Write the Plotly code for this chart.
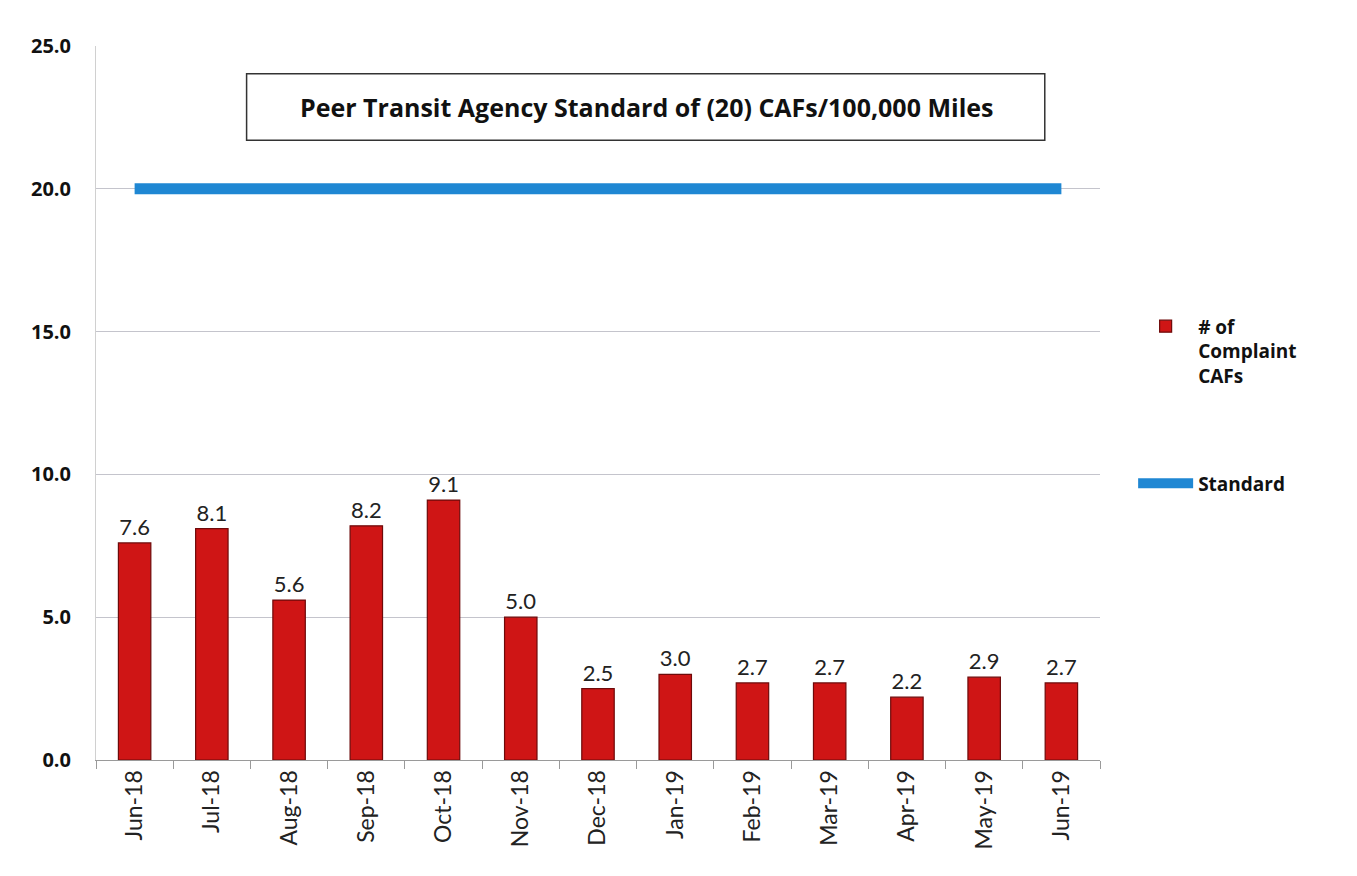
import plotly.graph_objects as go

months = ["Jun-18", "Jul-18", "Aug-18", "Sep-18", "Oct-18", "Nov-18", "Dec-18",
          "Jan-19", "Feb-19", "Mar-19", "Apr-19", "May-19", "Jun-19"]
complaints = [7.6, 8.1, 5.6, 8.2, 9.1, 5.0, 2.5, 3.0, 2.7, 2.7, 2.2, 2.9, 2.7]
standard = [20, 20, 20, 20, 20, 20, 20, 20, 20, 20, 20, 20, 20]
y_ticks = [0, 5, 10, 15, 20, 25]
title_text = "Peer Transit Agency Standard of (20) CAFs/100,000 Miles"

fig = go.Figure()
fig.add_trace(go.Bar(
    x=months, y=complaints, name="# of<br>Complaint<br>CAFs", legendgroup="a",
    marker=dict(color="#cf1515", line=dict(color="#6e0a0a", width=1.2)),
    width=0.42,
    text=[f"{v:.1f}" for v in complaints], textposition="outside",
    textfont=dict(size=22, color="#222222", family="Lato"),
    cliponaxis=False,
))
fig.add_trace(go.Scatter(
    x=months, y=standard, name="Standard", mode="lines", legendgroup="b",
    line=dict(color="#1f87d3", width=11),
))

fig.update_layout(
    width=1357, height=876,
    paper_bgcolor="white", plot_bgcolor="white",
    margin=dict(l=88, r=265, t=38, b=124),
    font=dict(family="Lato", color="#111111"),
    showlegend=True,
    legend=dict(x=1.033, y=0.634, xanchor="left", yanchor="top",
                font=dict(size=19, family="Open Sans", color="#111111", weight="bold"),
                tracegroupgap=80, itemwidth=55, traceorder="grouped", valign="top"),
    xaxis=dict(tickangle=-90, tickfont=dict(size=23, family="Lato", color="#222222"),
               showline=True, linecolor="#9a9a9a", ticks="outside", ticklen=8,
               tickcolor="#9a9a9a", tickson="boundaries", showgrid=False),
    yaxis=dict(range=[0, 25], tickvals=y_ticks, ticktext=[f"{v:.1f}" for v in y_ticks],
               tickfont=dict(size=20, family="Open Sans", color="#111111", weight="bold"),
               showgrid=True, gridcolor="#c4c4cc", gridwidth=1, zeroline=False,
               showline=True, linecolor="#d0d0d0", ticklabelstandoff=20),
    shapes=[dict(type="rect", xref="paper", yref="paper",
                 x0=0.150, x1=0.945, y0=0.868, y1=0.961,
                 line=dict(color="#333333", width=1.5), fillcolor="white", layer="above")],
    annotations=[dict(
        text="<b>" + title_text + "</b>", x=0.548, y=0.914, xref="paper", yref="paper",
        xanchor="center", yanchor="middle", showarrow=False,
        font=dict(size=25, family="Open Sans", color="#111111"),
    )],
)

fig.write_html("out.html")
